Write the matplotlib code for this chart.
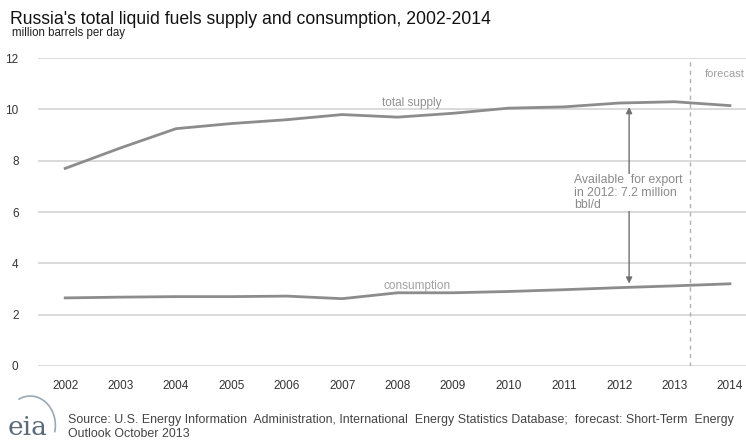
import numpy as np
import matplotlib.pyplot as plt
from matplotlib.patches import Arc

plt.rcParams['font.family'] = ['Liberation Sans', 'DejaVu Sans']

# data
years = list(range(2002, 2015))
supply = [7.7, 8.5, 9.25, 9.45, 9.6, 9.8, 9.7, 9.85, 10.05, 10.1, 10.25, 10.3, 10.15]
consumption = [2.65, 2.68, 2.7, 2.7, 2.72, 2.62, 2.85, 2.85, 2.9, 2.97, 3.05, 3.12, 3.2]
yticks = [0, 2, 4, 6, 8, 10, 12]

fig = plt.figure(figsize=(7.46, 4.44), dpi=100)
ax = fig.add_axes([0.051, 0.176, 0.949, 0.693])

for v in yticks:
    ax.axhline(v, color='#d4d4d4', lw=1.2, zorder=1)

ax.plot(years, supply, color='#8c8c8c', lw=2, zorder=3)
ax.plot(years, consumption, color='#8c8c8c', lw=2, zorder=3)

# forecast divider
ax.axvline(2013.28, color='#b0b0b0', lw=1, ls=(0, (3, 3)), zorder=2)
ax.text(2013.9, 11.4, 'forecast', fontsize=8, color='#a0a0a0', ha='center', va='center')

ax.text(2008.25, 10.25, 'total supply', fontsize=8.5, color='#909090', ha='center', va='center')
ax.text(2008.35, 3.1, 'consumption', fontsize=8.5, color='#a0a0a0', ha='center', va='center')

# export arrow (double headed, partly hidden by the label)
i12 = years.index(2012)
ax.annotate('', xy=(2012.18, supply[i12] - 0.05), xytext=(2012.18, consumption[i12] + 0.05),
            arrowprops=dict(arrowstyle='<|-|>', color='#707070', lw=1, mutation_scale=9),
            zorder=4)
ax.text(2011.18, 6.75, 'Available  for export\nin 2012: 7.2 million\nbbl/d', fontsize=8.8,
        color='#8a8a8a', ha='left', va='center', linespacing=1.05, zorder=5,
        bbox=dict(facecolor='white', edgecolor='none', pad=0.2))

ax.set_xlim(2001.51, 2014.29)
ax.set_ylim(0, 12)
ax.set_xticks(years)
ax.set_yticks(yticks)
ax.tick_params(length=0, labelsize=8.5, colors='#333333', pad=10)
ax.tick_params(axis='y', pad=14)
for s in ax.spines.values():
    s.set_visible(False)

fig.text(0.013, 0.955, "Russia's total liquid fuels supply and consumption, 2002-2014",
         fontsize=12.7, color='#111111', ha='left', va='center')
fig.text(0.016, 0.925, 'million barrels per day', fontsize=8.3, color='#222222',
         ha='left', va='center')

# eia logo
fig.text(0.01, 0.038, 'eia', fontsize=19, family='DejaVu Serif', color='#5a6a7a',
         ha='left', va='center')
logo_ax = fig.add_axes([0.0, 0.0, 0.09, 0.12])
logo_ax.set_xlim(0, 1)
logo_ax.set_ylim(0, 1)
logo_ax.axis('off')
logo_ax.add_patch(Arc((0.45, 0.35), 0.75, 1.1, theta1=-20, theta2=110, color='#9aa8b5', lw=1.2))

fig.text(0.091, 0.053, 'Source: U.S. Energy Information  Administration, International  Energy Statistics Database;  '
         'forecast: Short-Term  Energy', fontsize=8.9, color='#444444', ha='left', va='center')
fig.text(0.091, 0.022, 'Outlook October 2013', fontsize=8.9, color='#444444', ha='left', va='center')

fig.savefig('out.png', dpi=100)
